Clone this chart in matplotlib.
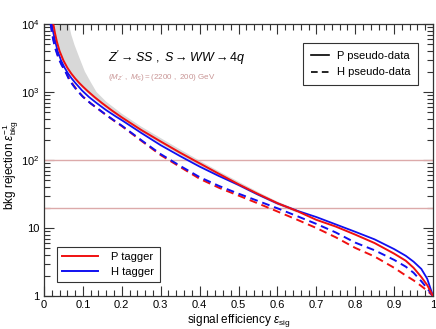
import matplotlib
matplotlib.use("Agg")
import matplotlib.pyplot as plt
from matplotlib.lines import Line2D
from matplotlib.ticker import MultipleLocator, LogLocator, NullFormatter, FixedLocator, FixedFormatter

plt.rcParams['font.family'] = ['Liberation Sans', 'DejaVu Sans']
plt.rcParams['mathtext.fontset'] = 'custom'
plt.rcParams['mathtext.rm'] = 'Liberation Sans'
plt.rcParams['mathtext.it'] = 'Liberation Sans:italic'
plt.rcParams['mathtext.sf'] = 'Liberation Sans'

# P tagger, P pseudo-data (red solid)
eff_p_p = [0.024, 0.028, 0.033, 0.04, 0.05, 0.06, 0.07, 0.08, 0.09, 0.10, 0.111, 0.13, 0.15,
           0.175, 0.20, 0.25, 0.30, 0.35, 0.39, 0.45, 0.50, 0.55, 0.60, 0.65, 0.70, 0.75, 0.80,
           0.85, 0.90, 0.93, 0.95, 0.97, 0.985, 1.0]
rej_p_p = [10000, 7450, 5520, 4000, 2900, 2275, 1870, 1585, 1370, 1200, 1047, 841, 681,
           532, 423, 276, 187, 128, 96, 62.5, 44, 31.7, 23.2, 17.8, 13.2, 10.5, 8.0,
           6.0, 4.2, 3.3, 2.6, 1.9, 1.45, 1.0]

# H tagger, P pseudo-data (blue solid)
eff_h_p = [0.02, 0.024, 0.029, 0.035, 0.044, 0.053, 0.062, 0.071, 0.08, 0.089, 0.098, 0.115, 0.135,
           0.16, 0.185, 0.20, 0.25, 0.30, 0.35, 0.40, 0.45, 0.50, 0.55, 0.60, 0.65, 0.70, 0.75,
           0.80, 0.85, 0.90, 0.93, 0.95, 0.97, 0.985, 1.0]
rej_h_p = [10000, 7450, 5520, 4000, 2900, 2275, 1870, 1585, 1370, 1200, 1050, 850, 690,
           540, 435, 385, 250, 165, 114, 80, 58, 43, 31, 23, 18, 14.5, 11.3,
           8.8, 6.8, 4.9, 3.9, 3.2, 2.5, 1.8, 1.0]

# H tagger, H pseudo-data (blue dashed)
eff_h_h = [0.017, 0.02, 0.024, 0.029, 0.037, 0.045, 0.055, 0.065, 0.075, 0.085, 0.10, 0.12, 0.14,
           0.16, 0.18, 0.20, 0.25, 0.30, 0.35, 0.40, 0.45, 0.50, 0.55, 0.60, 0.65, 0.70, 0.75,
           0.80, 0.85, 0.90, 0.93, 0.95, 0.97, 0.985, 1.0]
rej_h_h = [10000, 7590, 5750, 4365, 3160, 2510, 1995, 1500, 1250, 1050, 850, 680, 560,
           460, 382, 320, 196, 122, 82, 56, 41.5, 32, 25, 19.5, 15, 11.5, 8.6,
           6.1, 4.7, 3.4, 2.7, 2.2, 1.65, 1.3, 1.0]

# P tagger, H pseudo-data (red dashed)
eff_p_h = [0.018, 0.021, 0.025, 0.03, 0.038, 0.046, 0.056, 0.066, 0.076, 0.086, 0.10, 0.12, 0.14,
           0.16, 0.18, 0.20, 0.25, 0.30, 0.35, 0.40, 0.45, 0.50, 0.55, 0.60, 0.65, 0.70, 0.75,
           0.80, 0.85, 0.90, 0.93, 0.95, 0.97, 0.985, 1.0]
rej_p_h = [10000, 7590, 5750, 4365, 3160, 2510, 1995, 1510, 1255, 1055, 855, 680, 558,
           457, 378, 315, 192, 118, 79, 53, 39, 30, 23, 17.5, 13.3, 10, 7.3,
           5.1, 3.8, 2.6, 2.0, 1.7, 1.4, 1.2, 1.0]

# uncertainty band around P tagger / P pseudo-data
band_hi_eff = [0.064, 0.07, 0.078, 0.09, 0.105, 0.12, 0.135, 0.16, 0.20, 0.25, 0.30, 0.35, 0.40,
               0.45, 0.50, 0.55, 0.60, 0.65]
band_hi = [10000, 7000, 5000, 3300, 2000, 1400, 1000, 720, 480, 310, 210, 143, 98,
           68, 48, 34, 24.5, 18.8]
band_lo_eff = [0.65, 0.60, 0.55, 0.50, 0.45, 0.39, 0.35, 0.30, 0.25, 0.20, 0.175, 0.15, 0.13,
               0.111, 0.10, 0.09, 0.08, 0.07, 0.06, 0.05, 0.04, 0.033, 0.028, 0.024]
band_lo = [16.8, 21.8, 29.8, 41, 58, 89, 119, 174, 257, 393, 495, 633, 782,
           975, 1115, 1275, 1475, 1740, 2115, 2700, 3720, 5130, 6930, 9300]

ref_lines = [100, 20]

red = '#f01010'
blue = '#1010f0'

fig = plt.figure(figsize=(4.36, 3.29), dpi=100)
ax = fig.add_axes([44 / 436, 1 - 296 / 329, 389 / 436, 272 / 329])

ax.fill(band_hi_eff + band_lo_eff + [band_hi_eff[0]], band_hi + band_lo + [band_hi[0]],
        color='#d8d8d8', lw=0, zorder=1)
for r in ref_lines:
    ax.axhline(r, color='#dcaaaa', lw=1.0, zorder=2)

ax.plot(eff_p_h, rej_p_h, color=red, lw=1.4, ls=(0, (4, 2.5)), zorder=3)
ax.plot(eff_h_h, rej_h_h, color=blue, lw=1.4, ls=(0, (4, 2.5)), zorder=3)
ax.plot(eff_h_p, rej_h_p, color=blue, lw=1.3, zorder=4)
ax.plot(eff_p_p, rej_p_p, color=red, lw=1.4, zorder=4)

ax.set_xlim(0, 1)
ax.set_yscale('log')
ax.set_ylim(1, 1e4)

ax.xaxis.set_major_locator(FixedLocator([0, 0.1, 0.2, 0.3, 0.4, 0.5, 0.6, 0.7, 0.8, 0.9, 1.0]))
ax.xaxis.set_major_formatter(FixedFormatter(['0', '0.1', '0.2', '0.3', '0.4', '0.5', '0.6', '0.7', '0.8', '0.9', '1']))
ax.xaxis.set_minor_locator(MultipleLocator(0.02))
ax.yaxis.set_major_locator(FixedLocator([1, 10, 100, 1000, 10000]))
ax.yaxis.set_major_formatter(FixedFormatter(['1', '10', r'$10^{2}$', r'$10^{3}$', r'$10^{4}$']))
ax.yaxis.set_minor_locator(LogLocator(base=10, subs=range(2, 10)))
ax.yaxis.set_minor_formatter(NullFormatter())

ax.tick_params(which='both', direction='in', top=True, right=True, labelsize=8, width=0.8, color='#333333')
ax.tick_params(which='major', length=7, pad=3)
ax.tick_params(which='minor', length=4)
for s in ax.spines.values():
    s.set_linewidth(0.9)
    s.set_color('#333333')

ax.set_xlabel(r'signal efficiency $\varepsilon_{\rm sig}$', fontsize=8.5, labelpad=1)
ax.set_ylabel(r'bkg rejection $\varepsilon^{-1}_{\rm bkg}$', fontsize=8.5)
ax.yaxis.set_label_coords(-0.058, 0.48)

ax.text(0.165, 0.875, r"$Z' \rightarrow SS\ ,\ S \rightarrow WW \rightarrow 4q$", transform=ax.transAxes,
        fontsize=9, va='center', ha='left')
ax.text(0.165, 0.805, r"$(M_{Z'}\ ,\ M_{S}) = (2200\ ,\ 200)\ \mathrm{GeV}$", transform=ax.transAxes,
        fontsize=5.8, color='#c89494', va='center', ha='left')

h1 = [Line2D([], [], color='black', lw=1.2), Line2D([], [], color='black', lw=1.2, ls=(0, (4, 2.5)))]
leg1 = ax.legend(h1, ['P pseudo-data', 'H pseudo-data'], loc='upper right',
                 bbox_to_anchor=(0.961, 0.93), borderaxespad=0, fontsize=8, frameon=True,
                 fancybox=False, handlelength=1.6, handletextpad=0.7, borderpad=0.7, labelspacing=0.6)
leg1.get_frame().set_edgecolor('black')
leg1.get_frame().set_linewidth(0.8)
ax.add_artist(leg1)

h2 = [Line2D([], [], color=red, lw=1.4), Line2D([], [], color=blue, lw=1.4)]
leg2 = ax.legend(h2, ['P tagger', 'H tagger'], loc='lower left',
                 bbox_to_anchor=(0.033, 0.051), borderaxespad=0, fontsize=8, frameon=True,
                 fancybox=False, handlelength=3.2, handletextpad=1.2, borderpad=0.5, labelspacing=0.4)
leg2.get_frame().set_edgecolor('black')
leg2.get_frame().set_linewidth(0.8)

fig.savefig('out.png', dpi=100)
